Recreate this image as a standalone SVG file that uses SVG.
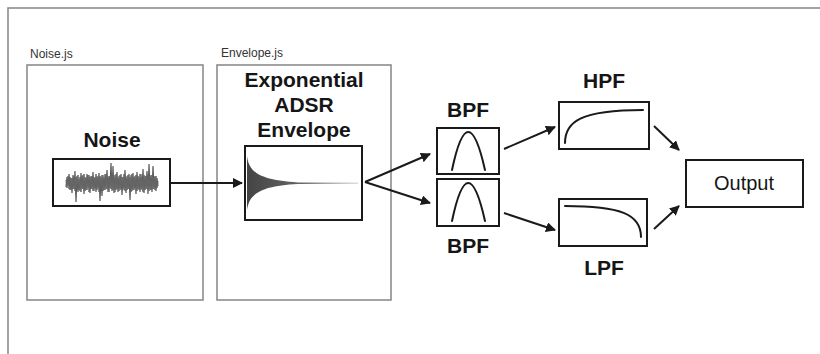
<svg xmlns="http://www.w3.org/2000/svg" width="820" height="354" viewBox="0 0 820 354">
<defs>
<style>
.frame{fill:none;stroke:#8c8c8c;stroke-width:1.6}
.box{fill:#fff;stroke:#1a1a1a;stroke-width:2}
.curve{fill:none;stroke:#1a1a1a;stroke-width:2;stroke-linecap:round}
.lbl{font-family:"Liberation Sans",Arial,sans-serif;font-size:21px;font-weight:bold;fill:#151515;text-anchor:middle}
.small{font-family:"Liberation Sans",Arial,sans-serif;font-size:12px;fill:#333}
.out{font-family:"Liberation Sans",Arial,sans-serif;font-size:20px;fill:#151515;text-anchor:middle}
.conn{fill:none;stroke:#1a1a1a;stroke-width:2;marker-end:url(#ah)}
</style>
<marker id="ah" viewBox="0 0 10 10" refX="9" refY="5" markerWidth="5" markerHeight="5" orient="auto" markerUnits="strokeWidth">
<path d="M0,0 L10,5 L0,10 z" fill="#1a1a1a"/>
</marker>
<linearGradient id="fade" x1="0" y1="0" x2="1" y2="0">
<stop offset="0" stop-color="#444"/>
<stop offset="0.5" stop-color="#666"/>
<stop offset="1" stop-color="#bbb"/>
</linearGradient>
</defs>
<rect width="820" height="354" fill="#fff"/>
<rect class="frame" x="8" y="8" width="830" height="360"/>

<g id="noise-js">
<text class="small" x="30" y="58">Noise.js</text>
<rect class="frame" x="27" y="65" width="176" height="235"/>
<text class="lbl" x="112" y="147">Noise</text>
</g>

<g id="envelope-js">
<text class="small" x="221" y="57">Envelope.js</text>
<rect class="frame" x="217" y="65" width="174" height="235"/>
<text class="lbl" x="304" y="87">Exponential</text>
<text class="lbl" x="304" y="112">ADSR</text>
<text class="lbl" x="304" y="137">Envelope</text>
</g>

<g id="noise">
<rect class="box" x="53" y="159" width="117" height="47"/>
<polyline fill="none" stroke="#5a5a5a" stroke-width="1.2" points="66,187 67,177 68,186 69,174 70,190 71,178 72,193 73,175 74,189 75,171 76,202 77,176 78,192 79,179 80,191 81,173 82,189 83,175 84,194 85,177 86,190 87,174 88,188 89,175 90,193 91,176 92,189 93,172 94,191 95,177 96,192 97,176 98,188 99,173 100,201 101,177 102,196 103,175 104,190 105,174 106,189 107,170 108,192 109,176 110,188 111,163 112,191 113,166 114,193 115,175 116,190 117,172 118,192 119,176 120,189 121,174 122,195 123,177 124,190 125,170 126,193 127,176 128,189 129,174 130,200 131,175 132,191 133,173 134,190 135,176 136,194 137,172 138,189 139,177 140,192 141,174 142,190 143,169 144,193 145,176 146,189 147,171 148,194 149,164 150,190 151,175 152,192 153,166 154,189 155,176 156,191 157,178 158,186"/>
<polyline fill="none" stroke="#666" stroke-width="1" points="66,180 67,188 68,176 69,189 70,177 71,190 72,178 73,189 74,176 75,191 76,177 77,188 78,175 79,190 80,177 81,192 82,176 83,189 84,174 85,191 86,178 87,190 88,175 89,192 90,177 91,189 92,176 93,191 94,178 95,188 96,174 97,190 98,177 99,192 100,176 101,189 102,175 103,191 104,178 105,190 106,174 107,189 108,177 109,192 110,176 111,189 112,175 113,190 114,177 115,192 116,174 117,189 118,178 119,191 120,175 121,190 122,177 123,188 124,174 125,191 126,178 127,190 128,175 129,189 130,177 131,192 132,174 133,190 134,177 135,188 136,175 137,191 138,176 139,190 140,174 141,189 142,177 143,192 144,175 145,190 146,176 147,189 148,174 149,191 150,177 151,190 152,175 153,189 154,177 155,190 156,176 157,188 158,181"/>
</g>

<g id="envelope">
<rect class="box" x="245" y="146" width="117" height="74"/>
<path d="M247,156 C249,171 257,180 298,182.4 L358,182.8 L358,183.6 L298,184 C257,186 249,196 247,210 Z" fill="url(#fade)"/>
</g>

<g id="bpf-top">
<text class="lbl" x="468" y="117">BPF</text>
<rect class="box" x="437" y="128" width="62" height="46"/>
<path class="curve" d="M452,170 Q468,94 485,170"/>
</g>

<g id="bpf-bottom">
<rect class="box" x="437" y="179" width="62" height="47"/>
<path class="curve" d="M452,221 Q468,145 485,221"/>
<text class="lbl" x="468" y="253">BPF</text>
</g>

<g id="hpf">
<text class="lbl" x="604" y="88">HPF</text>
<rect class="box" x="559" y="102" width="90" height="47"/>
<path class="curve" d="M565,143 C565,122 580,110 643,110"/>
</g>

<g id="lpf">
<rect class="box" x="559" y="199" width="88" height="47"/>
<path class="curve" d="M565,206 C620,206 641,214 641,237"/>
<text class="lbl" x="604" y="275">LPF</text>
</g>

<g id="output">
<rect class="box" x="686" y="160" width="117" height="47"/>
<text class="out" x="744" y="190">Output</text>
</g>

<g id="connectors">
<line class="conn" x1="171" y1="183" x2="242" y2="183"/>
<line class="conn" x1="365" y1="182" x2="430" y2="154"/>
<line class="conn" x1="365" y1="182" x2="430" y2="203"/>
<line class="conn" x1="504" y1="149" x2="555" y2="127"/>
<line class="conn" x1="504" y1="213" x2="555" y2="230"/>
<line class="conn" x1="654" y1="126" x2="679" y2="150"/>
<line class="conn" x1="654" y1="229" x2="679" y2="206"/>
</g>
</svg>
